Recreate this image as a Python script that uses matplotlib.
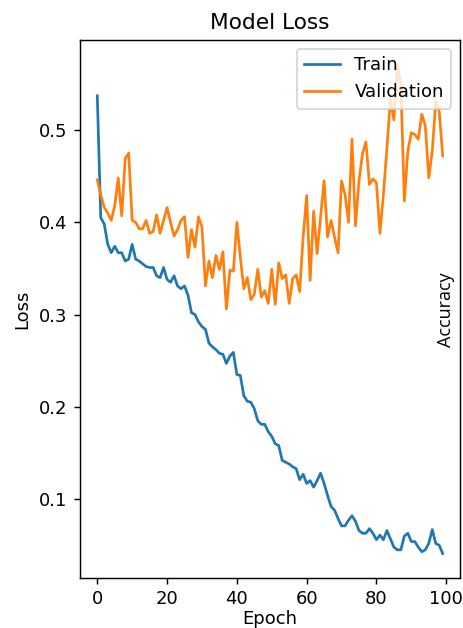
import matplotlib
matplotlib.use("Agg")
import matplotlib.pyplot as plt

# historial de entrenamiento
epochs = list(range(100))

train_loss = [0.537, 0.405, 0.398, 0.376, 0.367, 0.374, 0.367, 0.367, 0.358, 0.360,
              0.376, 0.360, 0.358, 0.355, 0.352, 0.351, 0.351, 0.342, 0.340, 0.351,
              0.338, 0.335, 0.342, 0.331, 0.328, 0.331, 0.321, 0.302, 0.300, 0.292,
              0.287, 0.284, 0.269, 0.265, 0.262, 0.258, 0.257, 0.247, 0.255, 0.259,
              0.235, 0.234, 0.212, 0.206, 0.205, 0.198, 0.185, 0.181, 0.181, 0.173,
              0.168, 0.160, 0.158, 0.142, 0.140, 0.138, 0.135, 0.133, 0.121, 0.127,
              0.117, 0.120, 0.113, 0.120, 0.128, 0.117, 0.104, 0.092, 0.088, 0.079,
              0.071, 0.071, 0.077, 0.082, 0.076, 0.066, 0.063, 0.063, 0.068, 0.063,
              0.056, 0.061, 0.056, 0.066, 0.057, 0.048, 0.045, 0.045, 0.060, 0.063,
              0.054, 0.054, 0.048, 0.043, 0.045, 0.052, 0.067, 0.052, 0.050, 0.041]

val_loss = [0.446, 0.430, 0.416, 0.410, 0.402, 0.418, 0.448, 0.407, 0.469, 0.475,
            0.402, 0.400, 0.393, 0.393, 0.402, 0.388, 0.390, 0.408, 0.388, 0.402,
            0.416, 0.400, 0.385, 0.392, 0.402, 0.406, 0.362, 0.392, 0.373, 0.406,
            0.395, 0.331, 0.358, 0.340, 0.364, 0.349, 0.368, 0.306, 0.348, 0.347,
            0.400, 0.362, 0.328, 0.340, 0.316, 0.322, 0.349, 0.319, 0.326, 0.312,
            0.349, 0.311, 0.356, 0.339, 0.343, 0.312, 0.339, 0.343, 0.325, 0.384,
            0.429, 0.337, 0.412, 0.366, 0.406, 0.445, 0.384, 0.402, 0.384, 0.367,
            0.445, 0.430, 0.400, 0.490, 0.396, 0.445, 0.474, 0.487, 0.441, 0.447,
            0.443, 0.388, 0.430, 0.480, 0.533, 0.511, 0.571, 0.549, 0.423, 0.477,
            0.497, 0.495, 0.490, 0.517, 0.505, 0.448, 0.477, 0.531, 0.520, 0.472]

DPI = 130
fig = plt.figure(figsize=(463 / DPI, 628 / DPI), dpi=DPI)
ax = fig.add_axes([0.1728, 0.0796, 0.8207, 0.8567])

ax.plot(epochs, train_loss, label="Train")
ax.plot(epochs, val_loss, label="Validation")

ax.set_title("Model Loss")
ax.set_xlabel("Epoch", labelpad=1)
ax.set_ylabel("Loss")
ax.tick_params(axis="x", pad=3)
ax.legend(loc="upper right")

# etiqueta de la otra grafica que queda encima
fig.text(446 / 463, 1 - 310 / 628, "Accuracy", rotation=90,
         ha="center", va="center", fontsize=10, family=["Open Sans", "DejaVu Sans"])

plt.savefig("out.png", dpi=DPI)
